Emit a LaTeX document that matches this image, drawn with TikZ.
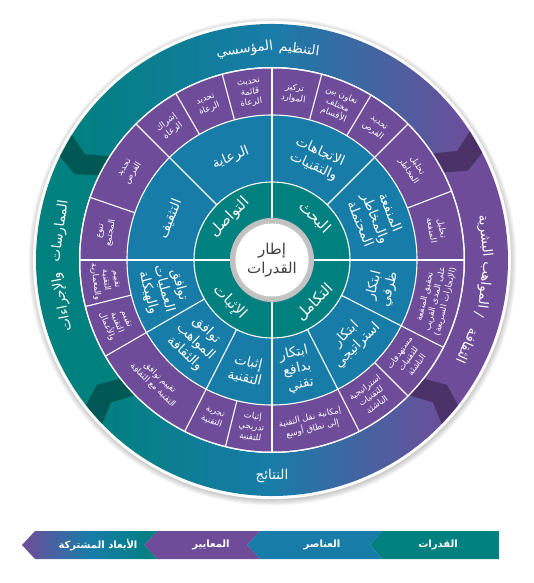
\documentclass[tikz,border=0pt]{standalone}
\usepackage{fontspec}
\newfontfamily\arabicfont[Script=Arabic]{DejaVu Sans}
\TeXXeTstate=1
\newcommand{\AR}[1]{\beginR#1\endR}
\definecolor{tealc}{RGB}{0,128,126}
\definecolor{bluec}{RGB}{24,124,168}
\definecolor{purc}{RGB}{111,76,154}
\definecolor{dteal}{RGB}{0,88,84}
\definecolor{dpur}{RGB}{74,50,104}
\tikzset{
 seg/.style={white, line width=1.1pt},
 small/.style={text=white, font=\arabicfont\fontsize{8.5}{10.5}\selectfont, align=center, inner sep=0pt},
 mid/.style={text=white, font=\arabicfont\fontsize{13.5}{16}\selectfont, align=center, inner sep=0pt},
 inn/.style={text=white, font=\arabicfont\fontsize{15}{17}\selectfont, inner sep=0pt},
 outer/.style={text=white, font=\arabicfont\fontsize{13.5}{16}\selectfont, inner sep=0pt},
 leg/.style={text=white, font=\arabicfont\bfseries\fontsize{10}{12}\selectfont, inner sep=0pt},
}
\begin{document}
\begin{tikzpicture}[x=1pt,y=1pt]
\useasboundingbox (-272,-323) rectangle (261,260);
% shadow
\foreach \i in {0,...,7} \fill[black, opacity=0.035] (0.5,-1.5) circle ({237+\i});
\fill[white] (0,0) circle (239);
% outer ring segments
\fill[tealc] (151:193) arc[start angle=151,end angle=220,radius=193] -- (220:236) arc[start angle=220,end angle=151,radius=236] -- cycle;
\fill[purc] (30:193) arc[start angle=30,end angle=-41,radius=193] -- (-41:236) arc[start angle=-41,end angle=30,radius=236] -- cycle;
\shade[left color=tealc, right color=purc, middle color=bluec] (151:193) arc[start angle=151,end angle=30,radius=193] -- (30:236) arc[start angle=30,end angle=151,radius=236] -- cycle;
\shade[left color=tealc, right color=purc, middle color=bluec] (-41:193) arc[start angle=-41,end angle=-140,radius=193] -- (-140:236) arc[start angle=-140,end angle=-41,radius=236] -- cycle;
% chevrons
\fill[dteal] (148:236) -- (150.5:215) -- (147.5:193) -- (154:193) -- (156.5:215) -- (154:236) -- cycle;
\fill[dpur] (33:236) -- (30.5:215) -- (33.5:193) -- (27:193) -- (24.5:215) -- (27:236) -- cycle;
\fill[dpur] (-44:236) -- (-41.5:215) -- (-44.5:193) -- (-38:193) -- (-35.5:215) -- (-38:236) -- cycle;
\fill[dteal] (-136:236) -- (-138.5:215) -- (-135.5:193) -- (-142:193) -- (-144.5:215) -- (-142:236) -- cycle;
% rings
\fill[white] (0,0) circle (193);
\fill[purc] (0,0) circle (191.5);
\fill[bluec] (0,0) circle (145);
\fill[tealc] (0,0) circle (78);
\draw[seg] (0,0) circle (145);
\draw[seg] (0,0) circle (78);
\foreach \a in {0,90,180,270} \draw[seg] (\a:42) -- (\a:192);
\foreach \a in {45,135,-27,-63,-117,-150} \draw[seg] (\a:78) -- (\a:192);
\foreach \a in {161,120,105,75,59,21,-45,-104,-166} \draw[seg] (\a:145) -- (\a:192);
% centre
\shade[inner color=gray!15, outer color=gray!50] (0,0) circle (42);
\fill[white] (0,0) circle (36.5);
\node[font=\arabicfont\fontsize{15}{19}\selectfont, text=black!75, align=center, inner sep=0pt] (c) at (0,0) {\AR{إطار}\\\AR{القدرات}};
% teal ring
\node[inn, rotate=45] (t1) at (135:60) {\AR{التواصل}};
\node[inn, rotate=-45] (t2) at (45:60) {\AR{البحث}};
\node[inn, rotate=45] (t3) at (-45:60) {\AR{التكامل}};
\node[inn, rotate=-45] (t4) at (-135:60) {\AR{الإثبات}};
% blue ring
\node[mid, rotate=-24] (b1) at (66:110) {\AR{الاتجاهات}\\\AR{والتقنيات}};
\node[mid, rotate=-68] (b2) at (22:112) {\AR{المنفعة}\\\AR{والمخاطر}\\\AR{المحتملة}};
\node[mid, rotate=76] (b3) at (-14:113) {\AR{ابتكار}\\\AR{ظرفي}};
\node[mid, rotate=45] (b4) at (-45:113) {\AR{ابتكار}\\\AR{استراتيجي}};
\node[mid, rotate=13] (b5) at (-77:112) {\AR{ابتكار}\\\AR{بدافع}\\\AR{تقني}};
\node[mid, rotate=-13] (b6) at (-103:113) {\AR{إثبات}\\\AR{التقنية}};
\node[mid, rotate=-43] (b7) at (-133:112) {\AR{توافق}\\\AR{المواهب}\\\AR{والثقافة}};
\node[mid, rotate=-75] (b8) at (-165:112) {\AR{توافق}\\\AR{العمليات}\\\AR{والهيكلة}};
\node[mid, rotate=68] (b9) at (158:110) {\AR{التثقيف}};
\node[mid, rotate=22] (b10) at (112:110) {\AR{الرعاية}};
% purple ring
\node[small, rotate=80.5] (p1) at (170.5:168) {\AR{تنوع}\\\AR{المجتمع}};
\node[small, rotate=58] (p2) at (148:168) {\AR{تحديد}\\\AR{الفرص}};
\node[small, rotate=37.5] (p3) at (127.5:168) {\AR{إشراك}\\\AR{الرعاة}};
\node[small, rotate=22.5] (p4) at (112.5:168) {\AR{تحديد}\\\AR{الرعاة}};
\node[small, rotate=7.5] (p5) at (97.5:168) {\AR{تحديث}\\\AR{قائمة}\\\AR{الرعاة}};
\node[small, rotate=-7.5] (p6) at (82.5:168) {\AR{تركيز}\\\AR{الموارد}};
\node[small, rotate=-23] (p7) at (67:168) {\AR{تعاون بين}\\\AR{مختلف}\\\AR{الأقسام}};
\node[small, rotate=-38] (p8) at (52:168) {\AR{تحديد}\\\AR{الفرص}};
\node[small, rotate=-57] (p9) at (33:168) {\AR{تحليل}\\\AR{المخاطر}};
\node[small, rotate=-79.5] (p10) at (10.5:168) {\AR{تحليل}\\\AR{المنفعة}};
\node[small, rotate=76.5] (p11) at (-13.5:168) {\AR{تحقيق المنفعة}\\\AR{على المدى القريب}\\\AR{(الإنجازات السريعة)}};
\node[small, rotate=54] (p12) at (-36:168) {\AR{مستهدفات}\\\AR{للتقنيات}\\\AR{الناشئة}};
\node[small, rotate=36] (p13) at (-54:168) {\AR{استراتيجية}\\\AR{للتقنيات}\\\AR{الناشئة}};
\node[small, rotate=13.5] (p14) at (-76.5:168) {\AR{إمكانية نقل التقنية}\\\AR{إلى نطاق أوسع}};
\node[small, rotate=-7] (p15) at (-97:168) {\AR{إثبات}\\\AR{تدريجي}\\\AR{للتقنية}};
\node[small, rotate=-20.5] (p16) at (-110.5:168) {\AR{تجربة}\\\AR{التقنية}};
\node[small, rotate=-43.5] (p17) at (-133.5:168) {\AR{تقييم توافق}\\\AR{التقنية مع الثقافة}};
\node[small, rotate=-68] (p18) at (-158:168) {\AR{تقييم}\\\AR{التقنية}\\\AR{والأعمال}};
\node[small, rotate=-83] (p19) at (-173:168) {\AR{تقييم}\\\AR{التقنية}\\\AR{والمعمارية}};
% outer ring labels
\node[outer, rotate=-7.4] (o1) at (82.6:212) {\AR{التنظيم}};
\node[outer, rotate=7.4] (o2) at (97.4:212) {\AR{المؤسسي}};
\node[outer, rotate=-83.5] (o3) at (6.5:214) {\AR{البشرية}};
\node[outer, rotate=-96.8] (o4) at (-6.8:214) {\AR{المواهب}};
\node[outer, rotate=-104.8] (o5) at (-14.8:214) {/};
\node[outer, rotate=-113.8] (o6) at (-23.8:214) {\AR{الثقافة}};
\node[outer, rotate=82.2] (o7) at (172.2:214) {\AR{الممارسات}};
\node[outer, rotate=101.3] (o8) at (191.3:214) {\AR{والإجراءات}};
\node[outer] (o9) at (-90:216) {\AR{النتائج}};
% legend
\fill[tealc] (98,-285) -- (110,-271) -- (227,-271) -- (227,-299) -- (110,-299) -- cycle;
\fill[bluec] (-25,-285) -- (-12,-271) -- (110,-271) -- (98,-285) -- (110,-299) -- (-12,-299) -- cycle;
\fill[purc] (-128,-285) -- (-115,-271) -- (-12,-271) -- (-25,-285) -- (-12,-299) -- (-115,-299) -- cycle;
\shade[left color=purc, right color=tealc, middle color=bluec] (-250,-285) -- (-237,-271) -- (-115,-271) -- (-128,-285) -- (-115,-299) -- (-237,-299) -- cycle;
\node[leg] (l1) at (166,-285) {\AR{القدرات}};
\node[leg] (l2) at (50,-285) {\AR{العناصر}};
\node[leg] (l3) at (-61,-285) {\AR{المعايير}};
\node[leg] (l4) at (-174,-285) {\AR{الأبعاد المشتركة}};
\end{tikzpicture}
\end{document}
